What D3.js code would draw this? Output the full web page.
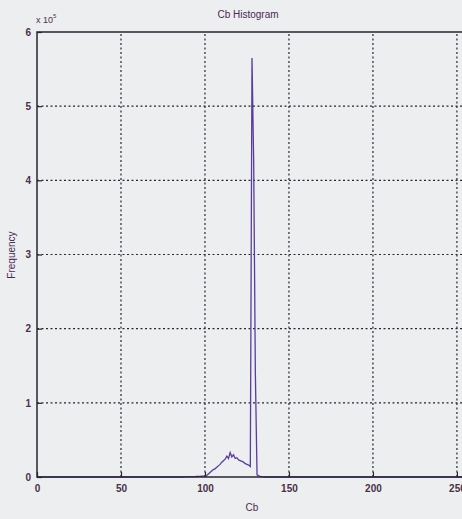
<!DOCTYPE html>
<html><head><meta charset="utf-8">
<script src="https://cdn.jsdelivr.net/npm/d3@7"></script>
<style>
html,body{margin:0;padding:0;background:#eceef0;}
svg{display:block;}
text{font-family:"Liberation Sans",Arial,sans-serif;}
</style></head>
<body>
<svg id="c" width="462" height="519"></svg>
<script>
// Data: Cb bins and frequencies (in units of 1e5)
const binStart = 88;
const freqValues = [
  // 88-100
  0.003,0.004,0.004,0.005,0.005,0.006,0.006,0.007,0.008,0.009,0.010,0.011,0.012,
  // 101-114
  0.02,0.04,0.06,0.08,0.10,0.11,0.13,0.15,0.17,0.20,0.22,0.24,0.28,0.25,
  // 115-127
  0.33,0.27,0.30,0.25,0.26,0.23,0.22,0.21,0.20,0.18,0.17,0.16,0.14,
  // 128-135
  5.65,4.25,1.40,0.03,0.015,0.008,0.004,0.002
];
const xTicks = [0,50,100,150,200,250];
const yTicks = [0,1,2,3,4,5,6];

const bins = d3.range(0,256);
const data = bins.map(b => {
  const i = b - binStart;
  return {x:b, y:(i>=0 && i<freqValues.length)? freqValues[i] : 0};
});

const svg = d3.select("#c");
const x = d3.scaleLinear().domain([0,256]).range([37,467]);
const y = d3.scaleLinear().domain([0,6]).range([477,32]);

const ink = "#2a2530";
svg.append("g").selectAll("line").data(xTicks.filter(d=>d>0)).join("line")
  .attr("x1",d=>x(d)).attr("x2",d=>x(d)).attr("y1",y(0)).attr("y2",y(6))
  .attr("stroke",ink).attr("stroke-width",1.2).attr("stroke-dasharray","2,2.5");
svg.append("g").selectAll("line").data(yTicks.filter(d=>d>0&&d<6)).join("line")
  .attr("x1",x(0)).attr("x2",x(256)).attr("y1",d=>y(d)).attr("y2",d=>y(d))
  .attr("stroke",ink).attr("stroke-width",1.2).attr("stroke-dasharray","2,2.5");

svg.append("path").datum(data)
  .attr("d", d3.line().x(d=>x(d.x)).y(d=>y(d.y)))
  .attr("fill","none").attr("stroke","#5a3c9c").attr("stroke-width",1.3);

svg.append("rect").attr("x",x(0)).attr("y",y(6)).attr("width",x(256)-x(0)).attr("height",y(0)-y(6))
  .attr("fill","none").attr("stroke",ink).attr("stroke-width",1.5);

const xa = svg.append("g").attr("transform",`translate(0,${y(0)})`)
  .call(d3.axisBottom(x).tickValues(xTicks).tickFormat(d3.format("d")).tickSizeInner(-5).tickSizeOuter(0).tickPadding(8));
const ya = svg.append("g").attr("transform",`translate(${x(0)},0)`)
  .call(d3.axisLeft(y).tickValues(yTicks).tickFormat(d3.format("d")).tickSizeInner(-5).tickSizeOuter(0).tickPadding(6));
[xa,ya].forEach(a=>{
  a.select(".domain").remove();
  a.selectAll(".tick line").attr("stroke",ink).attr("stroke-width",1.2);
  a.selectAll("text").attr("fill","#4a3048").style("font-size","10px").style("font-weight","bold");
});

svg.append("text").attr("x",248).attr("y",18).attr("text-anchor","middle")
  .attr("fill","#4a2a50").style("font-size","10px").text("Cb Histogram");
svg.append("text").attr("x",252).attr("y",511).attr("text-anchor","middle")
  .attr("fill","#4a3048").style("font-size","10px").text("Cb");
svg.append("text").attr("transform","translate(15,255) rotate(-90)").attr("text-anchor","middle")
  .attr("fill","#4a2a50").style("font-size","10px").text("Frequency");
const t = svg.append("text").attr("x",36).attr("y",23).attr("fill","#4a3048").style("font-size","9px");
t.append("tspan").text("x 10");
t.append("tspan").attr("dy",-5).style("font-size","6px").text("5");
</script>
</body></html>
